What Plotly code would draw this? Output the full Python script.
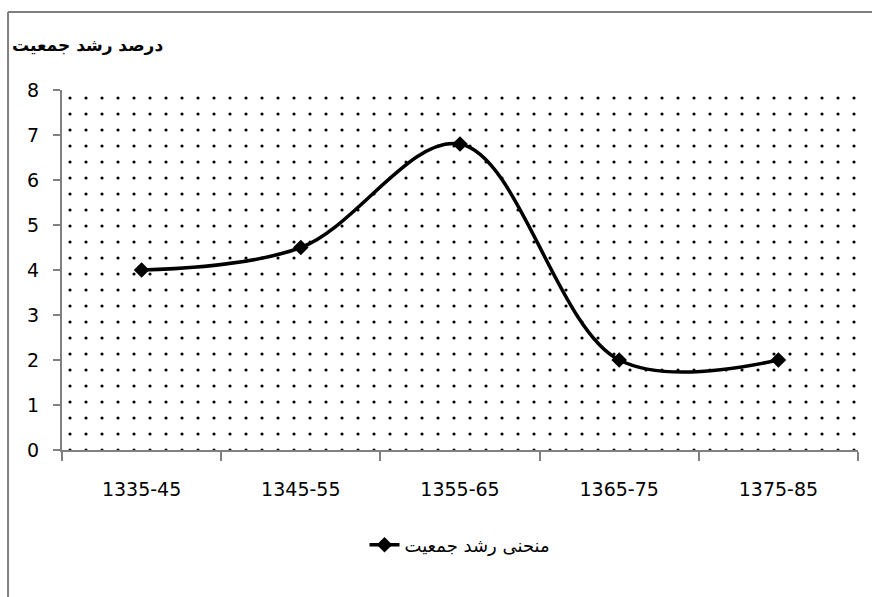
import plotly.graph_objects as go

categories = ["1335-45", "1345-55", "1355-65", "1365-75", "1375-85"]
growth = [4, 4.5, 6.8, 2, 2]
y_ticks = [0, 1, 2, 3, 4, 5, 6, 7, 8]
y_max = 8
series_name = "منحنی رشد جمعیت"
title_text = "درصد رشد جمعیت"

fig = go.Figure()

# dotted plot-area background
fig.add_trace(go.Bar(
    x=categories, y=[y_max] * len(categories), width=1,
    marker=dict(color="white", line=dict(width=0),
                pattern=dict(shape=".", fgcolor="black", bgcolor="white",
                             size=16, solidity=0.03, fillmode="replace")),
    hoverinfo="skip", showlegend=False,
))

fig.add_trace(go.Scatter(
    x=categories, y=growth, mode="lines+markers", name=series_name,
    line=dict(color="black", width=3.5, shape="spline", smoothing=1),
    marker=dict(symbol="diamond", size=12, color="black"),
))

border = dict(color="#808080", width=2)
fig.update_layout(
    width=872, height=597,
    margin=dict(l=62, r=14, t=90, b=147),
    paper_bgcolor="white", plot_bgcolor="white",
    font=dict(family="DejaVu Sans", size=19, color="black"),
    bargap=0,
    showlegend=True,
    legend=dict(orientation="h", x=0.5, xanchor="center", y=-0.264, yanchor="middle",
                font=dict(size=18), bgcolor="rgba(0,0,0,0)"),
    title=dict(text="<b>" + title_text + "</b>", xref="container", yref="container",
               x=0.0138, xanchor="left", y=0.9246, yanchor="middle",
               font=dict(size=17, color="black")),
    xaxis=dict(type="category", range=[-0.5, 4.5], showgrid=False,
               showline=True, linecolor="#808080", linewidth=2,
               ticks="outside", tickson="boundaries", ticklen=9,
               tickcolor="#808080", tickwidth=2, ticklabelstandoff=21),
    yaxis=dict(range=[0, y_max], tickvals=y_ticks, showgrid=False, zeroline=False,
               showline=True, linecolor="#808080", linewidth=2,
               ticks="outside", ticklen=7, tickcolor="#808080", tickwidth=2,
               ticklabelstandoff=10),
    shapes=[
        dict(type="line", xref="paper", yref="paper",
             x0=-0.0678, x1=1.2, y0=1.2167, y1=1.2167, line=border, layer="below"),
        dict(type="line", xref="paper", yref="paper",
             x0=-0.0678, x1=-0.0678, y0=-0.6, y1=1.2167, line=border, layer="below"),
    ],
)

fig.write_html("out.html",
               config={"displayModeBar": False},
               post_script="document.body.style.margin='0';"
                           "document.body.style.overflow='hidden';")
